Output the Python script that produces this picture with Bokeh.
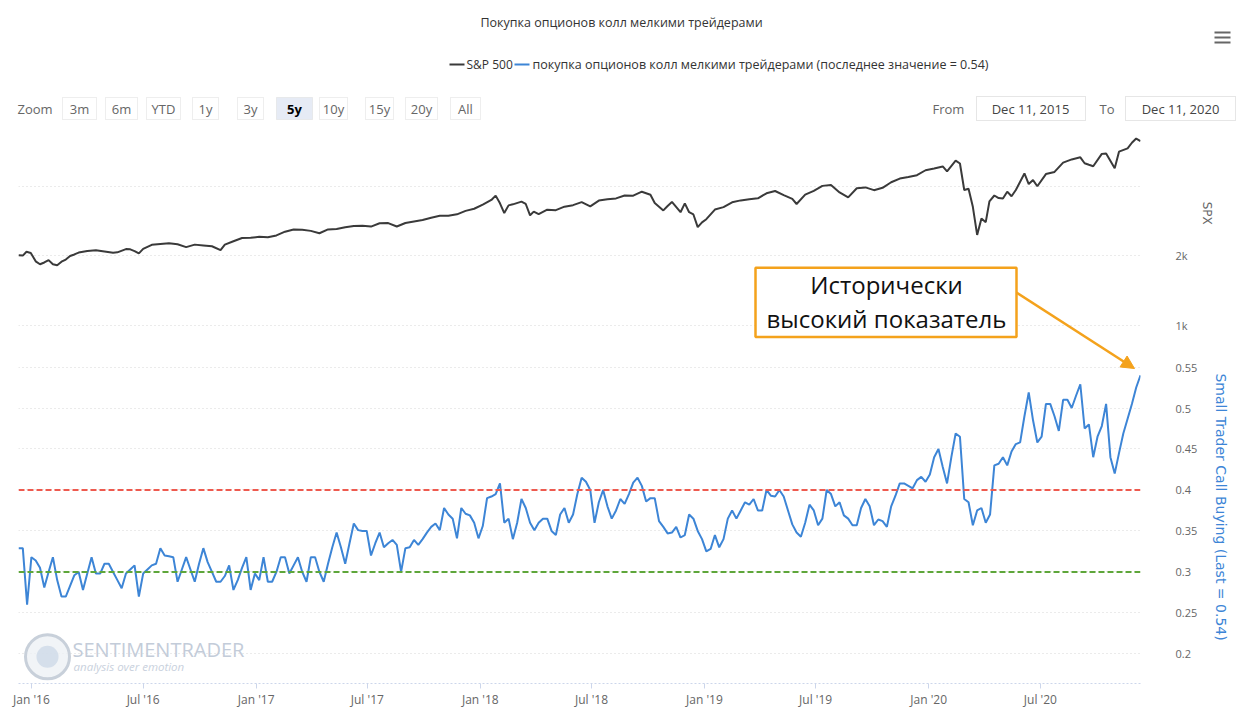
import math
import pandas as pd
from bokeh.plotting import figure
from bokeh.models import (Range1d, FixedTicker, DatetimeTickFormatter, Span, Label, LinearAxis,
                          BoxAnnotation, Arrow, NormalHead)
from bokeh.layouts import column
from bokeh.embed import file_html
from bokeh.resources import INLINE

# ---------------- data ----------------
TITLE = "Покупка опционов колл мелкими трейдерами"
SPX_NAME = "S&P 500"
CB_NAME = "покупка опционов колл мелкими трейдерами (последнее значение = 0.54)"
SPX_AXIS_TITLE = "SPX"
CB_AXIS_TITLE = "Small Trader Call Buying (Last = 0.54)"
ANNOT_LINES = ["Исторически", "высокий показатель"]
ZOOM_BUTTONS = ["3m", "6m", "YTD", "1y", "3y", "5y", "10y", "15y", "20y", "All"]
SELECTED_BUTTON = "5y"
FROM_DATE = "Dec 11, 2015"
TO_DATE = "Dec 11, 2020"

SPX_DATES = [
    "2015-12-11", "2015-12-18", "2015-12-24", "2015-12-31", "2016-01-08", "2016-01-15",
    "2016-01-22", "2016-01-29", "2016-02-05", "2016-02-12", "2016-02-19", "2016-02-26",
    "2016-03-04", "2016-03-11", "2016-03-18", "2016-04-01", "2016-04-15", "2016-04-29",
    "2016-05-13", "2016-05-20", "2016-06-03", "2016-06-10", "2016-06-17", "2016-06-24",
    "2016-07-01", "2016-07-15", "2016-07-29", "2016-08-12", "2016-08-26", "2016-09-09",
    "2016-09-23", "2016-10-07", "2016-10-21", "2016-11-04", "2016-11-11", "2016-11-25",
    "2016-12-09", "2016-12-23", "2017-01-06", "2017-01-20", "2017-02-03", "2017-02-17",
    "2017-03-03", "2017-03-17", "2017-03-31", "2017-04-14", "2017-04-28", "2017-05-12",
    "2017-05-26", "2017-06-09", "2017-06-23", "2017-07-07", "2017-07-21", "2017-08-04",
    "2017-08-18", "2017-09-01", "2017-09-15", "2017-09-29", "2017-10-13", "2017-10-27",
    "2017-11-10", "2017-11-24", "2017-12-08", "2017-12-22", "2018-01-05", "2018-01-19",
    "2018-01-26", "2018-02-02", "2018-02-09", "2018-02-16", "2018-02-23", "2018-03-09",
    "2018-03-16", "2018-03-23", "2018-03-29", "2018-04-06", "2018-04-20", "2018-05-04",
    "2018-05-18", "2018-06-01", "2018-06-15", "2018-06-29", "2018-07-13", "2018-07-27",
    "2018-08-10", "2018-08-24", "2018-09-07", "2018-09-21", "2018-10-05", "2018-10-12",
    "2018-10-26", "2018-11-02", "2018-11-09", "2018-11-23", "2018-11-30", "2018-12-07",
    "2018-12-14", "2018-12-21", "2018-12-28", "2019-01-04", "2019-01-18", "2019-02-01",
    "2019-02-15", "2019-03-01", "2019-03-15", "2019-03-29", "2019-04-12", "2019-04-26",
    "2019-05-10", "2019-05-24", "2019-05-31", "2019-06-14", "2019-06-28", "2019-07-12",
    "2019-07-26", "2019-08-09", "2019-08-23", "2019-09-06", "2019-09-20", "2019-10-04",
    "2019-10-18", "2019-11-01", "2019-11-15", "2019-11-29", "2019-12-13", "2019-12-27",
    "2020-01-10", "2020-01-24", "2020-01-31", "2020-02-14", "2020-02-21", "2020-02-28",
    "2020-03-06", "2020-03-13", "2020-03-20", "2020-03-27", "2020-04-03", "2020-04-09",
    "2020-04-17", "2020-04-24", "2020-05-01", "2020-05-08", "2020-05-15", "2020-05-22",
    "2020-06-05", "2020-06-12", "2020-06-19", "2020-06-26", "2020-07-10", "2020-07-24",
    "2020-08-07", "2020-08-21", "2020-09-04", "2020-09-11", "2020-09-18", "2020-09-25",
    "2020-10-09", "2020-10-16", "2020-10-30", "2020-11-06", "2020-11-20", "2020-11-27",
    "2020-12-04", "2020-12-11",
]
SPX_VALUES = [
    2012, 2005, 2060, 2044, 1922, 1880, 1906, 1940, 1880, 1865, 1917, 1948,
    1999, 2022, 2049, 2072, 2081, 2065, 2046, 2052, 2099, 2096, 2071, 2037,
    2102, 2161, 2173, 2184, 2169, 2128, 2164, 2153, 2141, 2085, 2164, 2213,
    2259, 2263, 2277, 2271, 2297, 2351, 2383, 2378, 2363, 2329, 2384, 2391,
    2416, 2432, 2438, 2425, 2473, 2476, 2426, 2477, 2500, 2519, 2553, 2581,
    2582, 2602, 2652, 2683, 2743, 2810, 2873, 2762, 2620, 2732, 2747, 2786,
    2752, 2588, 2641, 2604, 2670, 2663, 2713, 2735, 2779, 2718, 2801, 2819,
    2833, 2875, 2872, 2930, 2886, 2767, 2659, 2723, 2781, 2633, 2760, 2633,
    2600, 2417, 2486, 2532, 2671, 2707, 2776, 2804, 2822, 2834, 2907, 2940,
    2881, 2826, 2752, 2887, 2942, 3014, 3026, 2919, 2847, 2979, 2992, 2952,
    2986, 3067, 3120, 3141, 3169, 3240, 3265, 3295, 3225, 3380, 3338, 2954,
    2972, 2711, 2305, 2541, 2489, 2790, 2875, 2837, 2831, 2930, 2864, 2955,
    3194, 3041, 3098, 3009, 3185, 3216, 3351, 3397, 3427, 3341, 3319, 3298,
    3477, 3483, 3270, 3509, 3557, 3638, 3699, 3663,
]

# weekly (Fridays) small-trader call buying, first week = 2015-12-11
CB_FIRST_WEEK = "2015-12-11"
CB_VALUES = [
    0.329, 0.329, 0.26, 0.318, 0.314, 0.305, 0.281, 0.30, 0.318, 0.29,
    0.27, 0.27, 0.283, 0.296, 0.30, 0.278, 0.298, 0.318, 0.298, 0.298,
    0.31, 0.31, 0.30, 0.29, 0.28, 0.298, 0.303, 0.308, 0.27, 0.298,
    0.303, 0.308, 0.31, 0.329, 0.32, 0.319, 0.318, 0.288, 0.303, 0.318,
    0.303, 0.288, 0.31, 0.329, 0.312, 0.30, 0.288, 0.288, 0.295, 0.308,
    0.278, 0.29, 0.305, 0.318, 0.278, 0.298, 0.29, 0.318, 0.288, 0.288,
    0.30, 0.318, 0.318, 0.298, 0.308, 0.318, 0.30, 0.288, 0.318, 0.318,
    0.30, 0.288, 0.31, 0.33, 0.348, 0.33, 0.31, 0.335, 0.359, 0.351,
    0.35, 0.35, 0.32, 0.335, 0.348, 0.33, 0.335, 0.339, 0.333, 0.30,
    0.329, 0.33, 0.339, 0.333, 0.34, 0.348, 0.355, 0.359, 0.351, 0.378,
    0.37, 0.365, 0.341, 0.378, 0.371, 0.369, 0.36, 0.341, 0.356, 0.39,
    0.392, 0.395, 0.408, 0.36, 0.365, 0.34, 0.36, 0.389, 0.378, 0.36,
    0.351, 0.36, 0.365, 0.365, 0.35, 0.345, 0.37, 0.378, 0.36, 0.37,
    0.395, 0.415, 0.41, 0.40, 0.36, 0.385, 0.40, 0.38, 0.365, 0.375,
    0.389, 0.383, 0.395, 0.409, 0.415, 0.405, 0.386, 0.39, 0.39, 0.362,
    0.355, 0.347, 0.348, 0.355, 0.342, 0.345, 0.37, 0.365, 0.35, 0.34,
    0.325, 0.328, 0.345, 0.33, 0.34, 0.365, 0.375, 0.365, 0.375, 0.385,
    0.382, 0.389, 0.375, 0.375, 0.40, 0.393, 0.392, 0.40, 0.392, 0.375,
    0.358, 0.348, 0.343, 0.36, 0.382, 0.375, 0.357, 0.365, 0.40, 0.395,
    0.38, 0.385, 0.369, 0.365, 0.357, 0.357, 0.378, 0.389, 0.38, 0.357,
    0.364, 0.362, 0.355, 0.38, 0.393, 0.408, 0.408, 0.405, 0.402,
    0.412, 0.416, 0.41, 0.419, 0.44, 0.45, 0.428, 0.408, 0.44, 0.469,
    0.465, 0.389, 0.385, 0.357, 0.375, 0.378, 0.36, 0.37, 0.43, 0.432,
    0.44, 0.43, 0.447, 0.456, 0.458, 0.49, 0.519, 0.485, 0.458, 0.465,
    0.505, 0.505, 0.49, 0.472, 0.51, 0.51, 0.50, 0.515, 0.529, 0.475,
    0.48, 0.44, 0.465, 0.478, 0.505, 0.44, 0.42, 0.445, 0.469, 0.487,
    0.505, 0.525, 0.54,
]
UPPER_LEVEL = 0.40
LOWER_LEVEL = 0.30

CB_TICKS = [0.2, 0.25, 0.3, 0.35, 0.4, 0.45, 0.5, 0.55]
CB_TICK_LABELS = ["0.2", "0.25", "0.3", "0.35", "0.4", "0.45", "0.5", "0.55"]
SPX_TICKS = [1000, 2000]
SPX_TICK_LABELS = ["1k", "2k"]
SPX_GRID = [1000, 2000, 3000]
X_TICK_DATES = ["2016-01-01", "2016-07-01", "2017-01-01", "2017-07-01", "2018-01-01",
                "2018-07-01", "2019-01-01", "2019-07-01", "2020-01-01", "2020-07-01"]
X_START = "2015-12-11"
X_END = "2020-12-11"

# ---------------- layout constants (canvas pixels) ----------------
W, H = 1242, 710
HEADER_H = 135
FRAME_L, FRAME_R = 18, 1140
FRAME_T, FRAME_B = 135, 690
CB_REF, CB_REF_PY, CB_PX = 0.4, 494.0, 830.0       # 0.4 drawn at y=494, 830 px per unit
SPX_REF, SPX_REF_PY, SPX_PX = 2000.0, 257.0, 0.07  # 2000 drawn at y=257, 0.07 px per point

FONT = "Open Sans"
AXIS_FONT = "DejaVu Sans"
GREY = "#666666"
BLUE = "#3d85d6"
DARK = "#3a3a3a"
ORANGE = "#f4a21c"


def ms(ts):
    return pd.Timestamp(ts).value / 1e6


T0, T1 = ms(X_START), ms(X_END)


def xs(px):
    return T0 + (px - FRAME_L) / (FRAME_R - FRAME_L) * (T1 - T0)


def ys(py):
    return CB_REF + (CB_REF_PY - py) / CB_PX


def spx_at(py):
    return SPX_REF + (SPX_REF_PY - py) / SPX_PX


def spx_to_cb(s):
    return round(ys(SPX_REF_PY - (s - SPX_REF) * SPX_PX), 6)


def no_align(fig):
    try:
        fig.frame_align = False
    except Exception:
        pass


# ---------------- header ----------------
hdr = figure(width=W, height=HEADER_H, x_range=Range1d(0, W), y_range=Range1d(HEADER_H, 0),
             toolbar_location=None, output_backend="svg", x_axis_location=None,
             y_axis_location=None, min_border=0)
no_align(hdr)
hdr.grid.visible = False
hdr.outline_line_color = None
hdr.background_fill_color = "white"
hdr.border_fill_color = "white"

hdr.add_layout(Label(x=621, y=22, text=TITLE, text_align="center", text_baseline="middle",
                     text_font=FONT, text_font_size="12.5px", text_color="#333333"))
# menu icon
hdr.segment(x0=[1214] * 3, x1=[1230] * 3, y0=[32, 37, 42], y1=[32, 37, 42],
            line_color=GREY, line_width=2)
# legend
hdr.segment(x0=[449, 514], x1=[464, 529], y0=[64, 64], y1=[64, 64],
            line_color=[DARK, BLUE], line_width=2)
hdr.add_layout(Label(x=466, y=64, text=SPX_NAME, text_baseline="middle", text_font=FONT,
                     text_font_size="12px", text_color="#333333"))
hdr.add_layout(Label(x=532, y=64, text=CB_NAME, text_baseline="middle", text_font=FONT,
                     text_font_size="12.5px", text_color="#333333"))
# range selector
hdr.add_layout(Label(x=17, y=108, text="Zoom", text_baseline="middle", text_font=FONT,
                     text_font_size="13px", text_color=GREY))
btn_centers = [79, 121, 163, 205, 250, 294, 333, 379, 421, 465]
btn_w = [34, 32, 34, 26, 26, 36, 28, 28, 32, 30]
hdr.quad(left=[c - w / 2 for c, w in zip(btn_centers, btn_w)],
         right=[c + w / 2 for c, w in zip(btn_centers, btn_w)],
         top=[97] * len(btn_centers), bottom=[119] * len(btn_centers),
         fill_color=["#e6ebf5" if b == SELECTED_BUTTON else "white" for b in ZOOM_BUTTONS],
         line_color="#dcdcdc", line_dash="1 1", line_width=1)
for b, c in zip(ZOOM_BUTTONS, btn_centers):
    hdr.add_layout(Label(x=c, y=108, text=b, text_align="center", text_baseline="middle",
                         text_font=FONT, text_font_size="13px",
                         text_color="#000000" if b == SELECTED_BUTTON else GREY,
                         text_font_style="bold" if b == SELECTED_BUTTON else "normal"))
hdr.add_layout(Label(x=932, y=108, text="From", text_baseline="middle", text_font=FONT,
                     text_font_size="13px", text_color=GREY))
hdr.add_layout(Label(x=1099, y=108, text="To", text_baseline="middle", text_font=FONT,
                     text_font_size="13px", text_color=GREY))
hdr.quad(left=[976, 1125], right=[1085, 1235], top=[96, 96], bottom=[120, 120],
         fill_color="white", line_color="#cccccc", line_dash="1 1", line_width=1)
hdr.add_layout(Label(x=1030, y=108, text=FROM_DATE, text_align="center", text_baseline="middle",
                     text_font=FONT, text_font_size="13px", text_color="#444444"))
hdr.add_layout(Label(x=1180, y=108, text=TO_DATE, text_align="center", text_baseline="middle",
                     text_font=FONT, text_font_size="13px", text_color="#444444"))

# ---------------- main chart ----------------
p = figure(width=W, height=H - HEADER_H, x_axis_type="datetime",
           x_range=Range1d(T0, T1), y_range=Range1d(ys(FRAME_B), ys(FRAME_T)),
           y_axis_location="right", toolbar_location=None, output_backend="svg",
           min_border_left=FRAME_L, min_border_right=W - FRAME_R,
           min_border_top=0, min_border_bottom=H - FRAME_B)
no_align(p)
p.extra_y_ranges = {"spx": Range1d(spx_at(FRAME_B), spx_at(FRAME_T))}
p.outline_line_color = None
p.background_fill_color = "white"
p.border_fill_color = "white"

# y axis (right) combines both panes
right_ticks = CB_TICKS + [spx_to_cb(s) for s in SPX_TICKS]
overrides = dict(zip(CB_TICKS, CB_TICK_LABELS))
overrides.update({spx_to_cb(s): lab for s, lab in zip(SPX_TICKS, SPX_TICK_LABELS)})
ya = p.yaxis[0]
ya.ticker = FixedTicker(ticks=right_ticks)
ya.major_label_overrides = overrides
ya.axis_line_color = None
ya.major_tick_line_color = None
ya.major_tick_out = 0
ya.major_tick_in = 0
ya.minor_tick_line_color = None
ya.minor_tick_out = 0
ya.major_label_standoff = 35
ya.major_label_text_font = FONT
ya.major_label_text_font_size = "11px"
ya.major_label_text_color = GREY


# axis titles, each drawn as the single label of a bare axis; the label starts at py_start
def title_axis(text, py_start, color, standoff, size):
    pos = round(ys(py_start), 6)
    ax = LinearAxis(ticker=FixedTicker(ticks=[pos]), major_label_overrides={pos: text},
                    axis_line_color=None, major_tick_line_color=None, major_tick_out=0,
                    major_tick_in=0, minor_tick_line_color=None, minor_tick_out=0,
                    minor_tick_in=0, major_label_standoff=standoff,
                    major_label_orientation=-math.pi / 2, major_label_text_font=AXIS_FONT,
                    major_label_text_font_size=size, major_label_text_color=color)
    p.add_layout(ax, "right")


title_axis(SPX_AXIS_TITLE, 202, GREY, 6, "12px")
title_axis(CB_AXIS_TITLE, 376, BLUE, -3, "14px")

p.ygrid.ticker = FixedTicker(ticks=CB_TICKS + [spx_to_cb(s) for s in SPX_GRID])
p.ygrid.grid_line_color = "#d6d6d6"
p.ygrid.grid_line_dash = "1 3"
p.xgrid.visible = False

xa = p.xaxis[0]
xa.ticker = FixedTicker(ticks=[ms(d) for d in X_TICK_DATES])
xa.formatter = DatetimeTickFormatter(days="%b '%y", months="%b '%y", years="%b '%y")
xa.axis_line_color = "#ccd6eb"
xa.axis_line_dash = "2 2"
xa.major_tick_line_color = "#ccd6eb"
xa.major_tick_out = 5
xa.major_tick_in = 0
xa.minor_tick_line_color = None
xa.major_label_standoff = 2
xa.major_label_text_font = FONT
xa.major_label_text_font_size = "12px"
xa.major_label_text_color = GREY

# reference levels
p.add_layout(Span(location=UPPER_LEVEL, dimension="width", line_color="#ee5a4f",
                  line_dash="6 3", line_width=2))
p.add_layout(Span(location=LOWER_LEVEL, dimension="width", line_color="#5ea63a",
                  line_dash="6 3", line_width=2))

# series
spx_x = pd.to_datetime(SPX_DATES)
p.line(spx_x, SPX_VALUES, y_range_name="spx", line_color=DARK, line_width=2)
cb_x = pd.date_range(CB_FIRST_WEEK, periods=len(CB_VALUES), freq="7D")
p.line(cb_x, CB_VALUES, line_color=BLUE, line_width=2)

# watermark (logo ring + text)
p.scatter(x=[xs(47)], y=[ys(663)], marker="circle", size=44, fill_color="#eef1f5",
          fill_alpha=0.8, line_color="#c8d0da", line_width=3)
p.scatter(x=[xs(47)], y=[ys(663)], marker="circle", size=22, fill_color="#c9d6e6",
          fill_alpha=0.7, line_color=None)
p.add_layout(Label(x=xs(72), y=ys(656), text="SENTIMENTRADER", text_baseline="middle",
                   text_font=FONT, text_font_size="20px", text_color="#c3ccd9"))
p.add_layout(Label(x=xs(73), y=ys(673), text="analysis over emotion", text_baseline="middle",
                   text_font=FONT, text_font_size="11.5px", text_font_style="italic",
                   text_color="#c9d1dd"))

# callout
p.add_layout(BoxAnnotation(left=xs(755), right=xs(1016), top=ys(269), bottom=ys(339),
                           fill_color="white", fill_alpha=1.0, line_color=ORANGE,
                           line_width=2.5, line_alpha=1.0))
p.add_layout(Label(x=xs(886), y=ys(286), text=ANNOT_LINES[0], text_align="center",
                   text_baseline="middle", text_font=FONT, text_font_size="24px",
                   text_color="#111111"))
p.add_layout(Label(x=xs(886), y=ys(320), text=ANNOT_LINES[1], text_align="center",
                   text_baseline="middle", text_font=FONT, text_font_size="24px",
                   text_color="#111111"))
p.add_layout(Arrow(end=NormalHead(size=13, fill_color=ORANGE, line_color=ORANGE),
                   x_start=xs(1016), y_start=ys(294), x_end=xs(1134), y_end=ys(371),
                   line_color=ORANGE, line_width=2.5))

layout = column(hdr, p, spacing=0)
open("out.html", "w").write(file_html(layout, INLINE))
